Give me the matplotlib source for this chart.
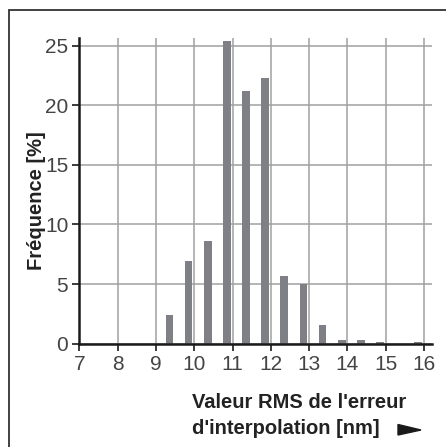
import matplotlib
matplotlib.use("Agg")
import matplotlib.pyplot as plt
from matplotlib.patches import Rectangle, Polygon

# histogram data
bin_centers = [9.35, 9.85, 10.35, 10.85, 11.35, 11.85, 12.35, 12.85,
               13.35, 13.85, 14.35, 14.85, 15.35, 15.85]
frequency = [2.4, 6.9, 8.6, 25.4, 21.2, 22.3, 5.7, 5.0,
             1.6, 0.3, 0.3, 0.15, 0.0, 0.15]
x_ticks = list(range(7, 17))
y_ticks = [0, 5, 10, 15, 20, 25]

plt.rcParams['font.family'] = ['Liberation Sans', 'DejaVu Sans']

W, H = 446, 447
fig = plt.figure(figsize=(W / 100, H / 100), dpi=100)

# outer frame (right and bottom cut off like the original)
frame = Rectangle((9 / W, -0.05), 1.2, 1 - 10 / H + 0.05,
                  transform=fig.transFigure, fill=False,
                  edgecolor="#333333", linewidth=1.3)
fig.patches.append(frame)

ax = fig.add_axes([0.178, 0.231, 0.79, 0.683])

ax.bar(bin_centers, frequency, width=0.2, color="#7f8085", zorder=3)

ax.set_xlim(7, 16.2)
ax.set_ylim(0, 25.6)
ax.set_xticks(x_ticks)
ax.set_yticks(y_ticks)

ax.grid(True, color="#a0a0a0", linewidth=1.1, zorder=0)
ax.set_axisbelow(True)

for side in ["top", "right"]:
    ax.spines[side].set_visible(False)
for side in ["left", "bottom"]:
    ax.spines[side].set_linewidth(1.8)
    ax.spines[side].set_color("#1a1a1a")
    ax.spines[side].set_zorder(4)

ax.tick_params(axis="both", direction="out", length=5, width=1.2,
               color="#1a1a1a", labelsize=15, labelcolor="#444444", pad=3)

ax.set_ylabel("Fréquence [%]", fontsize=14.5, fontweight="bold",
              color="#222222")
ax.yaxis.set_label_coords(-0.094, 0.47)

fig.text(192 / W, 1 - 408 / H, "Valeur RMS de l'erreur",
         fontsize=14.5, fontweight="bold", color="#222222",
         ha="left", va="baseline")
fig.text(192 / W, 1 - 434 / H, "d'interpolation [nm]",
         fontsize=14.5, fontweight="bold", color="#222222",
         ha="left", va="baseline")

# arrow at the end of the axis title
arrow = Polygon([(398 / W, 1 - 424.5 / H), (398 / W, 1 - 435 / H),
                 (421 / W, 1 - 430 / H)], closed=True,
                transform=fig.transFigure, color="#1a1a1a")
fig.patches.append(arrow)

fig.savefig("out.png", dpi=100)
